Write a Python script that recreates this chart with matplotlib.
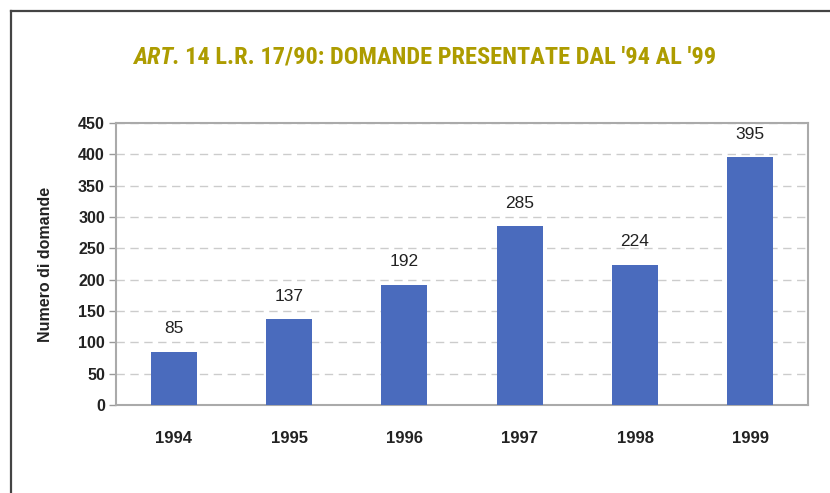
import matplotlib
matplotlib.use("Agg")
import matplotlib.pyplot as plt
from matplotlib.lines import Line2D

years = ["1994", "1995", "1996", "1997", "1998", "1999"]
domande = [85, 137, 192, 285, 224, 395]
yticks = [0, 50, 100, 150, 200, 250, 300, 350, 400, 450]

title_main = "14 L.R. 17/90: DOMANDE PRESENTATE DAL '94 AL '99"
title_art = "ART."
ylabel = "Numero di domande"

W, H = 830, 493
fig = plt.figure(figsize=(W / 100, H / 100), dpi=100)
fig.patch.set_facecolor("white")

# outer frame (left and top lines)
fig.add_artist(Line2D([11 / W, 11 / W], [0, 1 - 11 / H], color="#444444", lw=1.6))
fig.add_artist(Line2D([11 / W, 1], [1 - 11 / H, 1 - 11 / H], color="#444444", lw=1.6))

# title, fitted to the reference width
olive = "#ad9c00"
tfam = ["Roboto Condensed", "DejaVu Sans"]
x0, x1, ty = 133, 717, 1 - 57 / H


def draw_title(fs):
    a = fig.text(x0 / W, ty, title_art, color=olive, fontsize=fs, fontweight="bold",
                 style="italic", family=tfam, ha="left", va="center")
    fig.canvas.draw()
    bb = a.get_window_extent()
    b = fig.text((bb.x1 + 5) / W, ty, title_main, color=olive, fontsize=fs, fontweight="bold",
                 family=tfam, ha="left", va="center")
    fig.canvas.draw()
    return a, b, b.get_window_extent().x1


fs = 19
a, b, right = draw_title(fs)
fs2 = fs * (x1 - x0) / (right - x0)
a.remove()
b.remove()
draw_title(fs2)

ax = fig.add_axes([116 / W, 1 - 405 / H, (808 - 116) / W, (405 - 123) / H])
x = list(range(len(years)))
ax.bar(x, domande, width=0.4, color="#4a6bbd", zorder=3)
ax.set_xlim(-0.5, len(years) - 0.5)
ax.set_ylim(0, 450)
ax.set_yticks(yticks)
ax.set_yticklabels([str(v) for v in yticks], fontsize=11.5, fontweight="bold", color="#222222",
                   family="Liberation Sans")
ax.set_xticks(x)
ax.set_xticklabels(years, fontsize=12, fontweight="bold", color="#222222", family="Liberation Sans")
ax.tick_params(axis="x", length=0, pad=19)
ax.tick_params(axis="y", length=5, color="#999999", width=1, pad=3)
ax.grid(axis="y", color="#cccccc", linestyle=(0, (6, 4)), lw=1, zorder=0)
for s in ["left", "bottom", "top", "right"]:
    ax.spines[s].set_color("#aaaaaa")
    ax.spines[s].set_linewidth(1.5)
ax.set_ylabel(ylabel, fontsize=11.5, fontweight="bold", color="#222222", family="Liberation Sans",
              labelpad=18)
for xi, v in zip(x, domande):
    ax.annotate(str(v), (xi, v), xytext=(0, 11), textcoords="offset points", ha="center",
                va="bottom", fontsize=12.5, color="#222222", family="Liberation Sans")

fig.savefig("out.png", dpi=100)
